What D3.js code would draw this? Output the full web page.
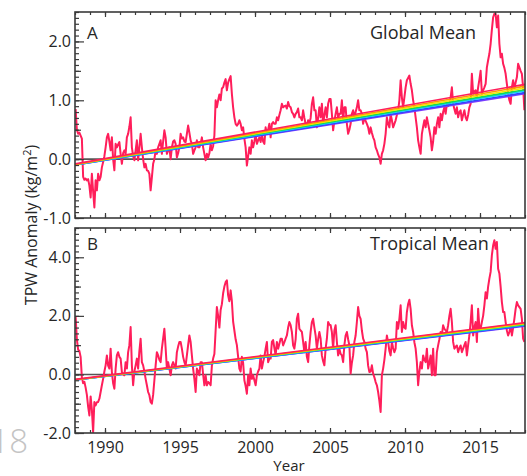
<!DOCTYPE html>
<html>
<head>
<meta charset="utf-8">
<script src="https://cdn.jsdelivr.net/npm/d3@7"></script>
<style>
  body { margin: 0; background: #fff; }
  svg { display: block; font-family: "Open Sans", "Liberation Sans", sans-serif; }
</style>
</head>
<body>
<svg id="chart" width="527" height="476"></svg>
<script>
// Monthly total precipitable water anomalies (kg/m^2), Jan 1988 - Dec 2017
const startYear = 1988;

const globalMean = [
  0.85, 0.50, 0.43, 0.45, 0.40, 0.35, -0.30, -0.35, -0.33, -0.36, -0.34, -0.45,
  -0.65, -0.25, -0.55, -0.82, -0.36, -0.53, -0.25, -0.36, -0.30, -0.14, -0.05, 0.05,
  0.20, 0.37, 0.43, 0.30, 0.15, 0.37, 0.00, -0.19, 0.26, 0.20, 0.25, 0.29,
  0.09, -0.08, 0.10, 0.15, 0.09, 0.37, 0.43, 0.55, 0.71, 0.20, 0.05, -0.02,
  0.15, 0.32, -0.02, 0.20, 0.43, 0.20, 0.00, -0.14, -0.08, -0.19, -0.20, -0.25,
  -0.53, -0.31, -0.08, 0.00, 0.15, 0.09, 0.20, 0.26, 0.32, 0.09, 0.30, 0.49,
  0.37, 0.09, 0.15, 0.20, 0.00, 0.20, 0.30, 0.32, 0.26, 0.03, 0.10, 0.20,
  0.43, 0.35, 0.37, 0.30, 0.29, 0.43, 0.57, 0.45, 0.32, 0.26, 0.09, 0.15,
  0.20, 0.32, 0.20, 0.20, 0.26, 0.37, 0.20, 0.09, -0.02, 0.09, 0.03, 0.10,
  0.26, 0.15, 0.22, 0.40, 1.00, 0.88, 1.00, 1.10, 1.00, 1.20, 1.22, 1.30,
  1.36, 1.17, 1.30, 1.36, 1.41, 1.11, 0.88, 0.71, 0.60, 0.57, 0.60, 0.66,
  0.60, 0.49, 0.54, 0.35, 0.20, -0.11, 0.05, 0.20, 0.09, 0.32, 0.20, 0.30,
  0.43, 0.26, 0.32, 0.37, 0.29, 0.43, 0.30, 0.26, 0.54, 0.43, 0.50, 0.60,
  0.37, 0.60, 0.63, 0.60, 0.60, 0.71, 0.66, 0.75, 0.83, 0.94, 0.88, 0.90,
  0.91, 0.86, 0.97, 0.90, 0.88, 0.80, 0.77, 0.71, 0.77, 0.80, 0.86, 0.71,
  0.71, 0.66, 0.83, 0.70, 0.60, 0.54, 0.66, 0.60, 0.70, 0.94, 1.05, 0.83,
  0.83, 0.54, 0.70, 0.88, 0.71, 0.94, 0.60, 0.75, 0.88, 0.71, 0.94, 1.02,
  1.02, 0.77, 0.49, 0.65, 0.77, 0.88, 0.71, 0.77, 0.77, 1.00, 0.66, 0.88,
  0.88, 0.60, 0.43, 0.50, 0.60, 0.77, 0.83, 0.71, 0.80, 0.88, 1.00, 0.83,
  0.83, 0.77, 0.60, 0.71, 0.65, 0.60, 0.54, 0.43, 0.54, 0.45, 0.37, 0.32,
  0.20, 0.15, 0.08, 0.03, -0.08, 0.09, 0.15, 0.26, 0.43, 0.71, 0.60, 0.54,
  0.77, 0.66, 0.54, 0.60, 0.66, 0.75, 0.83, 1.00, 1.34, 1.05, 0.88, 1.05,
  1.22, 1.34, 1.38, 1.42, 1.28, 1.17, 1.00, 0.88, 0.71, 0.54, 0.32, 0.20,
  0.09, 0.43, 0.55, 0.66, 0.54, 0.71, 0.60, 0.49, 0.37, 0.15, 0.30, 0.54,
  0.43, 0.60, 0.71, 0.54, 0.77, 0.66, 0.80, 0.88, 0.77, 0.94, 0.90, 0.94,
  1.05, 1.22, 0.94, 0.85, 0.77, 0.88, 0.71, 0.80, 0.83, 0.66, 0.75, 0.83,
  0.71, 0.66, 0.75, 0.88, 0.94, 1.45, 1.11, 1.15, 1.17, 1.05, 1.22, 1.35,
  1.50, 1.11, 1.17, 1.22, 1.28, 1.56, 1.68, 1.79, 1.96, 2.20, 2.41, 2.47,
  2.47, 2.24, 2.44, 1.96, 1.73, 1.79, 1.62, 1.55, 1.45, 1.28, 1.11, 1.00,
  0.94, 1.22, 1.34, 1.20, 1.30, 1.39, 1.62, 1.56, 1.50, 1.45, 1.22, 0.83
];

const tropicalMean = [
  1.97, 1.20, 0.85, 0.80, 0.60, -0.10, -0.30, -0.25, -0.45, -0.70, -1.10, -1.40,
  -0.75, -1.20, -1.97, -0.94, -1.06, -0.95, -0.94, -0.83, -0.60, -0.37, -0.15, 0.10,
  0.31, 0.65, 0.30, 0.20, 0.88, 0.08, -0.30, -0.49, 0.20, 0.65, 0.76, 0.60,
  0.54, 0.08, 0.00, -0.03, 0.42, 0.20, 0.76, 1.00, 1.62, 0.31, -0.37, 0.10,
  0.31, 0.54, 0.20, 0.80, 1.22, 0.42, 0.31, 0.10, -0.15, -0.37, -0.60, -0.71,
  -0.94, -1.00, -0.70, -0.20, 0.30, 0.76, 0.65, 0.50, 0.42, 0.88, 1.22, 1.56,
  0.90, 0.20, 0.42, 0.20, -0.03, 0.31, 0.42, 0.30, 0.20, 0.76, 0.95, 1.11,
  1.11, 0.88, 0.60, 0.42, 0.31, 0.65, 1.00, 1.33, 1.11, 0.65, 0.20, -0.15,
  -0.60, 0.20, 0.10, -0.03, 0.42, 0.42, 0.00, -0.37, -0.03, -0.37, -0.26, -0.30,
  -0.37, 0.30, 0.54, 0.70, 1.50, 2.30, 2.00, 1.60, 2.20, 2.40, 2.77, 3.00,
  3.15, 3.21, 2.70, 2.50, 2.87, 2.50, 1.80, 1.50, 1.20, 1.00, 0.60, 0.20,
  0.10, 0.60, 0.40, -0.20, -0.40, -0.66, -0.03, -0.37, 0.20, -0.15, -0.03, -0.20,
  -0.37, -0.03, 0.10, 0.20, 0.65, 0.20, 0.42, 0.60, 0.88, 1.11, 0.42, 0.54,
  0.54, 1.11, 1.17, 0.90, 0.65, 1.11, 0.88, 1.05, 1.22, 1.22, 0.99, 1.10,
  1.22, 1.33, 1.60, 1.79, 1.68, 1.45, 0.99, 0.88, 1.20, 1.90, 2.07, 1.56,
  1.50, 1.45, 1.11, 0.76, 1.11, 0.60, 0.42, 0.99, 1.45, 1.79, 1.90, 1.60,
  1.33, 0.88, 1.20, 1.45, 1.22, 0.65, 0.45, 0.31, 0.88, 1.22, 1.79, 1.70,
  1.68, 1.45, 0.88, 1.50, 1.68, 1.11, 0.65, 0.88, 0.70, 0.65, 0.42, 1.00,
  1.33, 1.45, 1.20, 0.99, 0.03, 0.40, 0.65, 1.11, 1.33, 1.79, 2.30, 2.00,
  1.90, 1.50, 1.22, 1.11, 0.88, 0.76, 0.30, 0.08, 0.10, 0.31, 0.03, -0.10,
  -0.26, -0.37, -0.60, -0.90, -1.28, -0.03, 0.20, 0.50, 0.88, 1.33, 1.11, 0.80,
  0.65, 1.11, 0.90, 0.76, 0.88, 1.79, 1.56, 1.90, 2.36, 1.45, 1.79, 1.60,
  1.56, 2.13, 2.40, 2.55, 2.24, 1.68, 1.45, 1.10, 0.88, 0.42, -0.37, 0.10,
  0.42, 0.20, 0.65, 0.50, 0.42, 0.88, 0.20, 0.40, 0.65, -0.03, 0.88, -0.03,
  -0.03, 0.76, 0.99, 1.20, 1.45, 1.33, 1.68, 1.56, 1.50, 1.45, 1.68, 2.00,
  2.24, 1.79, 1.11, 0.88, 0.95, 0.99, 0.76, 0.90, 0.99, 0.76, 0.88, 1.00,
  1.11, 0.65, 1.00, 1.33, 1.79, 2.36, 1.33, 1.60, 1.79, 1.11, 2.24, 1.60,
  1.56, 1.79, 2.00, 2.36, 2.81, 2.59, 3.00, 3.27, 3.50, 4.07, 4.40, 4.58,
  4.29, 4.52, 3.61, 3.45, 3.00, 2.47, 2.13, 2.13, 1.79, 1.50, 1.33, 1.45,
  1.68, 1.33, 1.60, 1.90, 2.24, 2.47, 2.36, 2.30, 2.24, 1.90, 1.22, 1.11
];

// Linear trends of the individual products (value at 1988.0 and at 2018.0)
const productColors = ["#7d3cff", "#2f45ff", "#14c8ff", "#10dc50", "#f0ea00", "#ff9800", "#ff1e5a"];
const globalTrendStart = [-0.10, -0.10, -0.10, -0.09, -0.09, -0.09, -0.08];
const globalTrendEnd = [1.11, 1.13, 1.16, 1.18, 1.21, 1.24, 1.27];
const tropicalTrendStart = [-0.19, -0.19, -0.19, -0.18, -0.18, -0.18, -0.17];
const tropicalTrendEnd = [1.65, 1.67, 1.69, 1.71, 1.73, 1.75, 1.77];

const yearTicks = [1990, 1995, 2000, 2005, 2010, 2015];
const globalTicks = [-1, 0, 1, 2];
const tropicalTicks = [-2, 0, 2, 4];

const svg = d3.select("#chart");
const plotLeft = 75, plotRight = 525;
const x = d3.scaleLinear().domain([1988, 2018]).range([plotLeft, plotRight]);
const axisColor = "#3a3a3a";
const textColor = "#262626";
const fontStack = "'Open Sans', 'Liberation Sans', sans-serif";

const panels = [
  { id: "A", title: "Global Mean", top: 12, bottom: 218, domain: [-1, 2.5], labelY: 39,
    majors: globalTicks, halves: [-0.5, 0.5, 1.5], minors: d3.range(-10, 26).map(i => i / 10),
    values: globalMean, trendStart: globalTrendStart, trendEnd: globalTrendEnd, yearLabels: false },
  { id: "B", title: "Tropical Mean", top: 228, bottom: 433, domain: [-2, 5], labelY: 250,
    majors: tropicalTicks, halves: [-1, 1, 3], minors: d3.range(-10, 26).map(i => i / 5),
    values: tropicalMean, trendStart: tropicalTrendStart, trendEnd: tropicalTrendEnd, yearLabels: true }
];

function styleAxis(g) {
  g.select(".domain").remove();
  g.selectAll(".tick line").attr("stroke", axisColor).attr("stroke-width", 1.2);
  g.selectAll(".tick text").attr("fill", textColor).style("font-size", "16px")
    .style("font-family", fontStack);
}

panels.forEach((p, pi) => {
  const y = d3.scaleLinear().domain(p.domain).range([p.bottom, p.top]);
  const g = svg.append("g");

  const clipId = "clip" + pi;
  svg.append("clipPath").attr("id", clipId).append("rect")
    .attr("x", plotLeft).attr("y", p.top)
    .attr("width", plotRight - plotLeft).attr("height", p.bottom - p.top);

  // Zero line
  g.append("line")
    .attr("x1", plotLeft).attr("x2", plotRight)
    .attr("y1", y(0)).attr("y2", y(0))
    .attr("stroke", "#555").attr("stroke-width", 1.6);

  // Anomaly series
  const line = d3.line()
    .x((d, i) => x(startYear + (i + 0.5) / 12))
    .y(d => y(d));
  g.append("path")
    .datum(p.values)
    .attr("clip-path", `url(#${clipId})`)
    .attr("d", line)
    .attr("fill", "none")
    .attr("stroke", productColors[productColors.length - 1])
    .attr("stroke-width", 2)
    .attr("stroke-linejoin", "round");

  // Trend lines of each product
  const trendLine = d3.line().x(d => x(d[0])).y(d => y(d[1]));
  productColors.forEach((c, k) => {
    g.append("path")
      .datum([[1988, p.trendStart[k]], [2018, p.trendEnd[k]]])
      .attr("clip-path", `url(#${clipId})`)
      .attr("d", trendLine)
      .attr("fill", "none")
      .attr("stroke", c)
      .attr("stroke-width", 1.6);
  });

  // Y axis: minor, half and major ticks pointing inward
  g.append("g").attr("transform", `translate(${plotLeft},0)`)
    .call(d3.axisLeft(y).tickValues(p.minors).tickSize(-4).tickFormat(""))
    .call(styleAxis);
  g.append("g").attr("transform", `translate(${plotLeft},0)`)
    .call(d3.axisLeft(y).tickValues(p.halves).tickSize(-6).tickFormat(""))
    .call(styleAxis);
  g.append("g").attr("transform", `translate(${plotLeft},0)`)
    .call(d3.axisLeft(y).tickValues(p.majors).tickSize(-9).tickPadding(4)
      .tickFormat(d => d.toFixed(1)))
    .call(styleAxis);

  // X axes on top and bottom edges
  const minorYears = d3.range(1988, 2019);
  g.append("g").attr("transform", `translate(0,${p.top})`)
    .call(d3.axisTop(x).tickValues(minorYears).tickSize(-3).tickFormat(""))
    .call(styleAxis);
  g.append("g").attr("transform", `translate(0,${p.top})`)
    .call(d3.axisTop(x).tickValues(yearTicks).tickSize(-5).tickFormat(""))
    .call(styleAxis);
  g.append("g").attr("transform", `translate(0,${p.bottom})`)
    .call(d3.axisBottom(x).tickValues(minorYears).tickSize(-3).tickFormat(""))
    .call(styleAxis);
  g.append("g").attr("transform", `translate(0,${p.bottom})`)
    .call(d3.axisBottom(x).tickValues(yearTicks).tickSize(-5).tickPadding(9)
      .tickFormat(p.yearLabels ? d3.format("d") : ""))
    .call(styleAxis);

  // Frame
  g.append("rect")
    .attr("x", plotLeft).attr("y", p.top)
    .attr("width", plotRight - plotLeft).attr("height", p.bottom - p.top)
    .attr("fill", "none").attr("stroke", axisColor).attr("stroke-width", 1.6);

  // Panel letter and title
  g.append("text").attr("x", 87).attr("y", p.labelY)
    .attr("fill", textColor).style("font-size", "17px").text(p.id);
  g.append("text").attr("x", 370).attr("y", p.labelY)
    .attr("fill", textColor).style("font-size", "18px").text(p.title);
});

// Axis titles
const yTitle = svg.append("text")
  .attr("transform", "translate(37,225) rotate(-90)")
  .attr("text-anchor", "middle")
  .attr("fill", textColor).style("font-size", "16px");
yTitle.append("tspan").text("TPW Anomaly (kg/m");
yTitle.append("tspan").attr("dy", -6).style("font-size", "11px").text("2");
yTitle.append("tspan").attr("dy", 6).text(")");

svg.append("text").attr("x", 289).attr("y", 471)
  .attr("text-anchor", "middle")
  .attr("fill", textColor).style("font-size", "15px").text("Year");

// Page number
svg.append("text").attr("x", 28).attr("y", 453)
  .attr("text-anchor", "end")
  .attr("fill", "#c4c4c4").style("font-size", "33px").style("font-weight", 300).text("18");
</script>
</body>
</html>
